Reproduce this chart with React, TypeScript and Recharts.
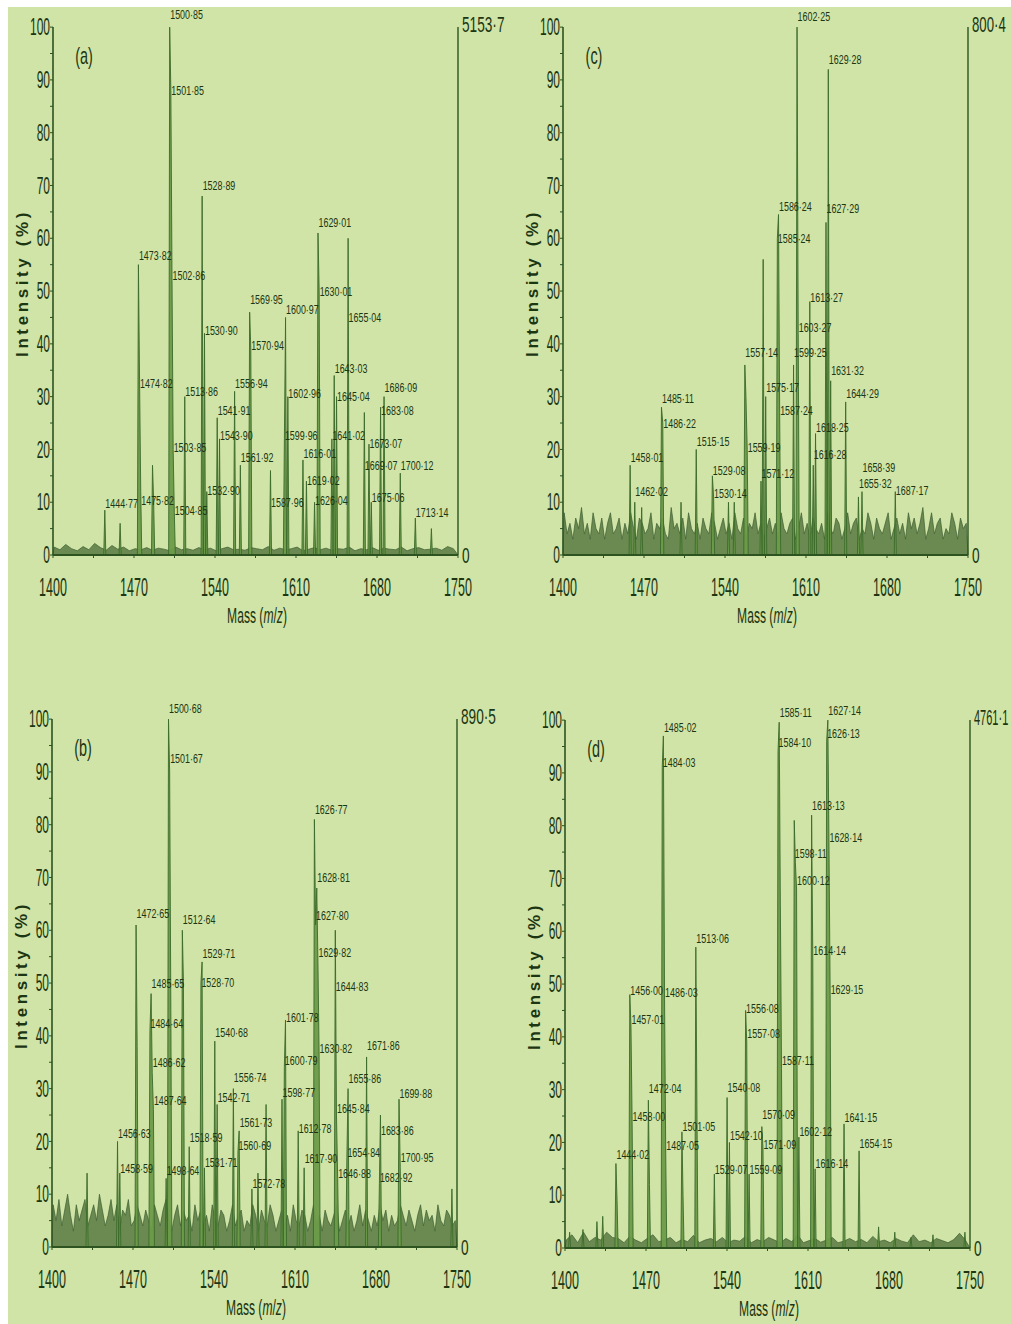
import React from 'react';
import { ComposedChart, Area, Scatter, XAxis, YAxis, ReferenceLine } from 'recharts';

// [m/z, intensity %, height of the annotation if the peak is labelled]
type Peak = [number, number, number?];

const X_TICKS = [1400, 1435, 1470, 1505, 1540, 1575, 1610, 1645, 1680, 1715, 1750];
const Y_TICKS = [0, 5, 10, 15, 20, 25, 30, 35, 40, 45, 50, 55, 60, 65, 70, 75, 80, 85, 90, 95, 100];

const peaksA: Peak[] = [
  [1444.77, 8.5, 9.8], [1458.0, 6], [1473.82, 55, 56.8], [1474.82, 33, 32.6], [1475.82, 12, 10.4],
  [1486.0, 17], [1487.0, 10], [1500.85, 100, 102.5], [1501.85, 88, 88], [1502.86, 52, 53],
  [1503.85, 20, 20.5], [1504.85, 8, 8.5], [1513.86, 30, 31], [1528.89, 68, 70], [1530.9, 42, 42.6],
  [1532.9, 12, 12.3], [1541.91, 26, 27.5], [1543.9, 22, 22.7], [1556.94, 31, 32.6], [1561.92, 17, 18.6],
  [1569.95, 46, 48.5], [1570.94, 39, 39.8], [1587.96, 16, 10], [1599.96, 22, 22.7], [1600.97, 45, 46.5],
  [1602.96, 30, 30.7], [1616.01, 18, 19.3], [1619.02, 14, 14.2], [1626.04, 10, 10.4], [1629.01, 61, 63],
  [1630.01, 50, 50], [1641.02, 22, 22.7], [1643.03, 34, 35.4], [1645.04, 30, 30], [1655.04, 60, 45],
  [1669.07, 27, 17], [1673.07, 21, 21.2], [1675.06, 10, 11], [1683.08, 28, 27.5], [1686.09, 30, 31.8],
  [1700.12, 15.5, 17], [1713.14, 7, 8], [1727.0, 5],
];

const peaksC: Peak[] = [
  [1458.01, 17, 18.5], [1462.02, 10, 12], [1468.0, 9], [1485.11, 28, 29.7], [1486.22, 25, 25],
  [1502.0, 10], [1515.15, 20, 21.5], [1529.08, 15, 16], [1530.14, 11, 11.7], [1543.0, 10], [1548.0, 10],
  [1557.14, 36, 38.4], [1558.1, 30], [1559.19, 20, 20.5], [1571.12, 14, 15.5], [1573.0, 56],
  [1575.17, 30, 31.8], [1585.24, 60, 60], [1586.24, 64.5, 66], [1587.24, 27, 27.5], [1599.25, 36, 38.4],
  [1602.25, 100, 102], [1603.27, 42, 43.2], [1613.27, 48, 48.9], [1616.28, 17, 19], [1618.25, 23, 24.2],
  [1627.29, 63, 65.7], [1629.28, 92, 94], [1631.32, 33, 35], [1644.29, 29, 30.7], [1655.32, 11, 13.6],
  [1658.39, 12, 16.7], [1687.17, 12, 12.3],
];

const peaksB: Peak[] = [
  [1430.3, 14], [1456.63, 20, 21.6], [1458.59, 14, 15], [1472.65, 61, 63.3], [1473.6, 38],
  [1484.64, 41, 42.4], [1485.65, 48, 50], [1486.62, 33, 35], [1487.64, 26, 27.8], [1498.64, 13, 14.6],
  [1500.68, 100, 102], [1501.67, 90, 92.6], [1502.7, 45], [1512.64, 60, 62], [1513.6, 50],
  [1518.59, 19, 20.8], [1528.7, 50, 50.2], [1529.71, 54, 55.7], [1531.71, 15, 16], [1540.68, 39, 40.7],
  [1542.71, 27, 28.4], [1556.74, 30, 32.2], [1560.69, 18, 19.3], [1561.73, 22, 23.7], [1572.78, 11, 12.1],
  [1578.0, 14], [1585.0, 27], [1598.77, 28, 29.4], [1600.79, 34, 35.4], [1601.78, 43, 43.6],
  [1612.78, 22, 22.5], [1617.9, 15, 16.9], [1626.77, 81, 83], [1627.8, 61, 62.9], [1628.81, 68, 70],
  [1629.82, 54, 55.9], [1630.82, 37, 37.7], [1644.83, 60, 49.3], [1645.84, 25, 26.3], [1646.88, 13, 14],
  [1654.84, 17, 18], [1655.86, 30, 32], [1671.86, 36, 38.3], [1682.92, 12, 13.3], [1683.86, 25, 22.2],
  [1699.88, 28, 29.2], [1700.95, 15, 17], [1745.6, 11],
];

const peaksD: Peak[] = [
  [1404.0, 3], [1415.5, 3.5], [1427.6, 5], [1432.6, 6], [1444.02, 16, 17.8], [1445.0, 9],
  [1456.0, 48, 48.8], [1457.01, 42, 43.4], [1458.0, 24, 25], [1472.04, 28, 30.2], [1473.0, 12],
  [1484.03, 91, 92], [1485.02, 97, 98.7], [1486.03, 47, 48.4], [1487.05, 18, 19.4], [1501.05, 22, 23.1],
  [1502.0, 10], [1513.06, 57, 58.6], [1514.0, 27], [1529.07, 14, 15], [1540.08, 28.5, 30.4],
  [1542.1, 20, 21.3], [1556.08, 45, 45.5], [1557.08, 39, 40.6], [1559.09, 14, 15], [1570.09, 23, 25.4],
  [1571.09, 19, 19.7], [1584.1, 94, 95.8], [1585.11, 99.6, 101.5], [1586.1, 65], [1587.11, 34, 35.5],
  [1598.11, 81, 74.8], [1599.1, 73], [1600.12, 68, 69.6], [1602.12, 21, 22.2], [1613.13, 82, 83.9],
  [1614.14, 55, 56.4], [1616.14, 15, 16.1], [1626.13, 96, 97.5], [1627.14, 100, 101.9], [1628.14, 76, 77.8],
  [1629.15, 48, 49], [1641.15, 23.5, 24.7], [1654.15, 18.4, 19.9], [1671.0, 4], [1685.0, 3],
  [1699.0, 2], [1718.0, 2.5], [1745.6, 3],
];

// baseline noise, sampled from 1401 upward at the panel's step
const noiseA = [
  1.5, 1, 2, 1.2, 0.8, 1.6, 1, 2.2, 1.4, 0.9, 1.8, 1.1, 1.5, 0.8, 1.2, 1, 1.4, 0.9, 1.3, 1.1,
  0.8, 1.5, 1, 1.2, 0.9, 1.4, 1, 1.3, 0.8, 1.2, 1.5, 1, 1.1, 0.9, 1.4, 1.2, 1, 1.6, 0.9, 1.3,
  1, 1.2, 1.5, 0.8, 1.1, 1.4, 1, 1.3, 0.9, 1.2, 1.1, 1.5, 0.8, 1.2, 1, 1.4, 0.9, 1.3, 1.1, 1,
  1.5, 0.8, 1.2, 1.4, 1, 1.1, 1.3, 0.9, 1.6, 1.2,
];
const noiseC = [
  8, 4, 6, 3, 7, 5, 9, 4, 6, 3, 8, 5, 4, 7, 3, 6, 8, 4, 5, 7, 3, 6, 4, 8, 5, 3, 7, 6, 4, 5,
  8, 3, 6, 5, 7, 4, 3, 9, 5, 6, 4, 7, 3, 8, 5, 4, 6, 3, 7, 5,
  4, 8, 6, 3, 5, 7, 4, 6, 3, 8, 5, 4, 7, 3, 6, 5, 8, 4, 6, 3,
  5, 7, 4, 6, 3, 8, 5, 4, 6, 7, 3, 5, 8, 4, 6, 3, 7, 5, 4, 6,
  3, 8, 5, 4, 7, 6, 3, 5, 8, 4, 6, 7, 3, 5, 4, 8, 6, 3, 7, 5,
  4, 6, 8, 3, 5, 7, 4, 6, 3, 8, 5, 7, 4, 6, 9, 3, 5, 8, 4, 6, 7, 3, 5, 4, 8, 6, 3, 7, 5, 6,
];
const noiseB = [
  8, 5, 9, 4, 7, 10, 6, 3, 8, 5, 7, 9, 4, 6, 8, 5, 10, 7, 4, 6, 9, 5, 8, 3, 7, 6, 9, 4, 5, 8,
  6, 4, 7, 5, 3, 8, 6, 4, 7, 9, 5, 3, 6, 8, 4, 7, 5, 6, 3, 8,
  5, 7, 4, 6, 3, 8, 5, 4, 7, 6, 3, 5, 8, 4, 6, 7, 3, 5, 4, 8,
  6, 3, 7, 5, 4, 8, 6, 3, 5, 7, 4, 6, 3, 8, 5, 4, 7, 6, 3, 5,
  8, 4, 6, 3, 7, 5, 4, 6, 8, 3, 5, 7, 4, 6, 3, 5, 8, 4, 7, 5,
  3, 6, 4, 8, 5, 7, 3, 6, 4, 5, 8, 6, 4, 7, 5, 3, 6, 8, 4, 7, 5, 6, 3, 8, 5, 4, 7, 6, 4, 5,
];
const noiseD = [
  1.5, 2.5, 1, 3, 1.2, 2, 1.5, 3, 2, 1.8, 1, 2.2, 1.5, 1, 1.8, 2.5, 1.2, 1.5, 2, 1,
  1.6, 1.2, 2.4, 1, 1.5, 1.8, 1.2, 2, 1, 1.5, 1.3, 2.2, 1, 1.6, 1.2, 2, 1.5, 1, 1.8, 1.2,
  2.5, 1, 1.4, 1.8, 1.1, 1.5, 2, 1, 1.3, 1.8, 1.2, 1.6, 1, 2.2, 1.2, 1.5, 1, 1.8, 1.3, 1,
  2.5, 1.2, 1.5, 1, 1.8, 1.4, 1, 1.6, 2.8, 1.5,
];

const FONT = '"Liberation Sans", Arial, Helvetica, sans-serif';
const INK = '#1c3512';
const AXIS = '#2c5320';
const BG = '#cfe4a6';

function buildSticks(peaks: Peak[]) {
  const sorted = [...peaks].sort((a, b) => a[0] - b[0]);
  const pts: { mz: number; v: number }[] = [];
  sorted.forEach((p, i) => {
    const prev = sorted[i - 1];
    const next = sorted[i + 1];
    if (!prev || p[0] - prev[0] > 1.3) pts.push({ mz: p[0] - 0.9, v: 0 });
    pts.push({ mz: p[0], v: p[1] });
    if (!next || next[0] - p[0] > 1.3) pts.push({ mz: p[0] + 0.9, v: 0 });
  });
  return pts;
}

function buildNoise(noise: number[], step: number) {
  const pts = [{ mz: 1400, v: 0 }];
  noise.forEach((v, i) => {
    const mz = 1401 + i * step;
    if (mz < 1750) pts.push({ mz, v });
  });
  pts.push({ mz: 1750, v: 0 });
  return pts;
}

function buildLabels(peaks: Peak[]) {
  return peaks
    .filter((p) => p[2] !== undefined)
    .map((p) => ({ mz: p[0], y: p[2], t: p[0].toFixed(2).replace('.', '·') }));
}

const PeakLabel = (props: any) => {
  const { cx, cy, payload } = props;
  return (
    <text
      transform={`translate(${cx + 0.5},${cy}) scale(0.66,1)`}
      fontSize={13.5}
      fontFamily={FONT}
      fill={INK}
      dominantBaseline="central"
    >
      {payload.t}
    </text>
  );
};

const XTick = (p: any) => {
  const v = p.payload.value;
  if ((v - 1400) % 70 !== 0) return <g />;
  return (
    <text
      transform={`translate(${p.x},${p.y + 27}) scale(0.5,1)`}
      textAnchor="middle"
      dominantBaseline="central"
      fontSize={25}
      fontFamily={FONT}
      fill={INK}
    >
      {v}
    </text>
  );
};

const YTick = (p: any) => {
  const v = p.payload.value;
  if (v % 10 !== 0) return <g />;
  return (
    <text
      transform={`translate(${p.x},${p.y}) scale(0.52,1)`}
      textAnchor="end"
      dominantBaseline="central"
      fontSize={23}
      fontFamily={FONT}
      fill={INK}
    >
      {v}
    </text>
  );
};

const squeezed = (x: number, y: number, size: number, sx: number): React.CSSProperties => ({
  position: 'absolute',
  left: x,
  top: y,
  transform: `translate(-50%,-50%) scaleX(${sx})`,
  fontFamily: FONT,
  fontSize: size,
  lineHeight: 1,
  color: INK,
  whiteSpace: 'nowrap',
});

const rightLabel = (y: number, sx: number): React.CSSProperties => ({
  position: 'absolute',
  left: 462,
  top: y,
  transform: `translate(0,-50%) scaleX(${sx})`,
  transformOrigin: 'left center',
  fontFamily: FONT,
  fontSize: 22,
  lineHeight: 1,
  color: INK,
  whiteSpace: 'nowrap',
});

type PanelProps = {
  tag: string;
  right: string;
  rightScale: number;
  peaks: Peak[];
  noise: number[];
  step: number;
  left: number;
  top: number;
};

const Panel = ({ tag, right, rightScale, peaks, noise, step, left, top }: PanelProps) => {
  const sticks = buildSticks(peaks);
  const base = buildNoise(noise, step);
  const labels = buildLabels(peaks);
  return (
    <div style={{ position: 'absolute', left, top, width: 508, height: 609 }}>
      <ComposedChart width={508} height={609} margin={{ top: 10, right: 50, bottom: 0, left: 0 }}>
        <XAxis
          dataKey="mz"
          type="number"
          domain={[1400, 1750]}
          ticks={X_TICKS}
          tick={XTick}
          tickSize={3}
          tickMargin={2}
          height={50}
          axisLine={{ stroke: AXIS, strokeWidth: 2 }}
          tickLine={{ stroke: AXIS }}
        />
        <YAxis
          yAxisId="l"
          type="number"
          domain={[0, 104]}
          ticks={Y_TICKS}
          width={53}
          axisLine={false}
          tickSize={3}
          tickMargin={0}
          tick={YTick}
          tickLine={{ stroke: AXIS }}
        />
        <Area
          yAxisId="l"
          data={base}
          dataKey="v"
          type="linear"
          stroke="#3f5e32"
          strokeWidth={0.7}
          fill="#5e8048"
          fillOpacity={0.9}
          dot={false}
          activeDot={false}
          isAnimationActive={false}
        />
        <Area
          yAxisId="l"
          data={sticks}
          dataKey="v"
          type="linear"
          stroke="#3b6a2a"
          strokeWidth={0.9}
          fill="#6b9b49"
          fillOpacity={0.95}
          dot={false}
          activeDot={false}
          isAnimationActive={false}
        />
        <ReferenceLine
          yAxisId="l"
          segment={[{ x: 1400, y: 0 }, { x: 1400, y: 100 }]}
          stroke={AXIS}
          strokeWidth={1.6}
        />
        <ReferenceLine
          yAxisId="l"
          segment={[{ x: 1750, y: 0 }, { x: 1750, y: 100 }]}
          stroke={AXIS}
          strokeWidth={1.4}
        />
        <Scatter yAxisId="l" data={labels} dataKey="y" shape={PeakLabel} isAnimationActive={false} />
      </ComposedChart>
      <div style={squeezed(84, 60, 24, 0.6)}>{tag}</div>
      <div style={rightLabel(29, rightScale)}>{right}</div>
      <div style={rightLabel(560, 0.62)}>0</div>
      <div
        style={{
          position: 'absolute',
          left: 22,
          top: 287,
          transform: 'translate(-50%,-50%) rotate(-90deg)',
          fontFamily: FONT,
          fontSize: 17,
          fontWeight: 'bold',
          letterSpacing: 3.6,
          lineHeight: 1,
          color: INK,
          whiteSpace: 'nowrap',
        }}
      >
        Intensity (%)
      </div>
      <div style={squeezed(257, 620, 22, 0.55)}>
        Mass (<i>m</i>/<i>z</i>)
      </div>
    </div>
  );
};

const App = () => (
  <div
    style={{
      position: 'absolute',
      left: 0,
      top: 0,
      width: 1011,
      height: 1324,
      background: '#ffffff',
      overflow: 'hidden',
    }}
  >
    <div style={{ position: 'absolute', left: 8, top: 7, right: 0, bottom: 0, background: BG }} />
    <Panel tag="(a)" right="5153·7" rightScale={0.62} peaks={peaksA} noise={noiseA} step={5} left={0} top={-4} />
    <Panel tag="(c)" right="800·4" rightScale={0.6} peaks={peaksC} noise={noiseC} step={2.5} left={510} top={-4} />
    <Panel tag="(b)" right="890·5" rightScale={0.62} peaks={peaksB} noise={noiseB} step={2.5} left={-1} top={688} />
    <Panel tag="(d)" right="4761·1" rightScale={0.5} peaks={peaksD} noise={noiseD} step={5} left={512} top={689} />
  </div>
);

export default App;
